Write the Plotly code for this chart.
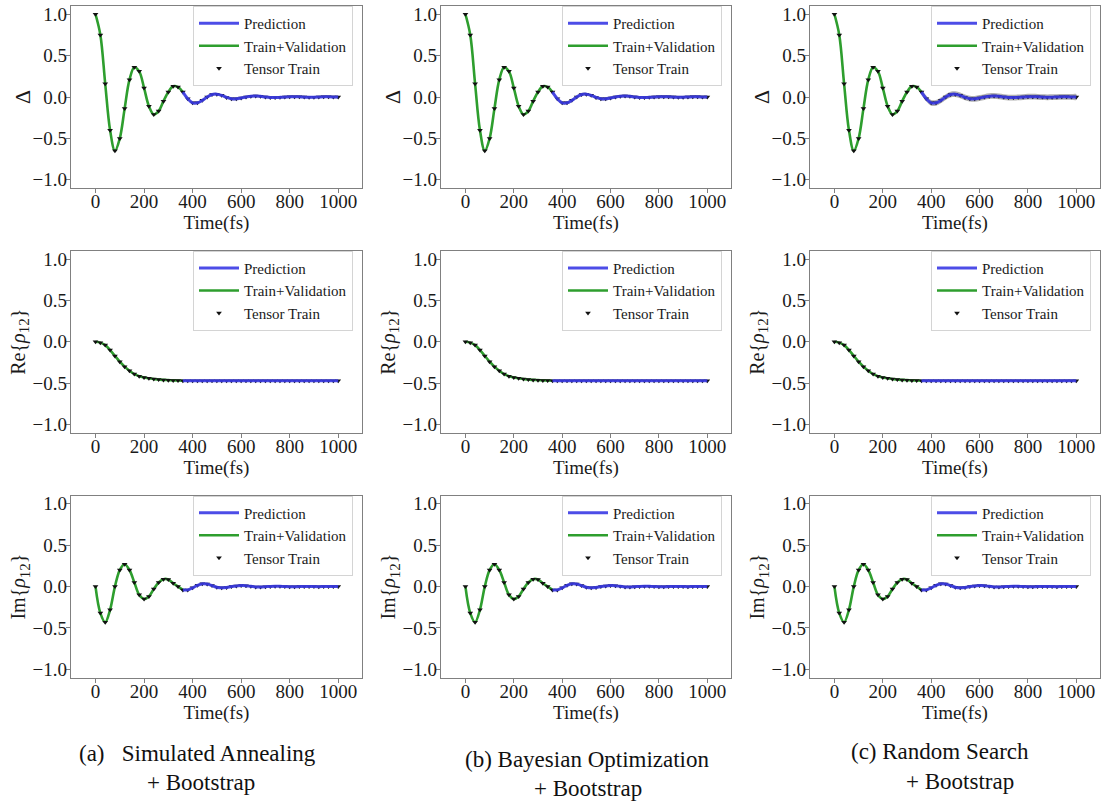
import plotly.graph_objects as go

# ---------------- data ----------------
time_fs = list(range(0, 1001, 20))

delta_vals = [1.0, 0.75, 0.16, -0.40, -0.65, -0.50, -0.14, 0.21, 0.36, 0.31,
              0.11, -0.11, -0.21, -0.17, -0.05, 0.06, 0.13, 0.12, 0.06, -0.02,
              -0.07, -0.07, -0.04, 0.0, 0.03, 0.035, 0.02, -0.005, -0.02, -0.022,
              -0.012, 0.0, 0.01, 0.013, 0.008, 0.0, -0.006, -0.007, -0.004, 0.0,
              0.004, 0.004, 0.002, -0.001, -0.003, -0.002, 0.0, 0.002, 0.002, 0.001,
              0.0]

re_rho12 = [0.0, -0.01, -0.04, -0.10, -0.17, -0.24, -0.30, -0.35, -0.39, -0.415,
            -0.43, -0.44, -0.45, -0.455, -0.46, -0.463, -0.466, -0.468, -0.47, -0.47,
            -0.47, -0.47, -0.47, -0.47, -0.47, -0.47, -0.47, -0.47, -0.47, -0.47,
            -0.47, -0.47, -0.47, -0.47, -0.47, -0.47, -0.47, -0.47, -0.47, -0.47,
            -0.47, -0.47, -0.47, -0.47, -0.47, -0.47, -0.47, -0.47, -0.47, -0.47,
            -0.47]

im_rho12 = [0.0, -0.32, -0.43, -0.28, 0.0, 0.20, 0.27, 0.20, 0.05, -0.10,
            -0.15, -0.12, -0.03, 0.05, 0.09, 0.085, 0.04, 0.0, -0.04, -0.04,
            -0.015, 0.015, 0.035, 0.03, 0.012, -0.008, -0.015, -0.01, 0.0, 0.008,
            0.012, 0.01, 0.003, -0.004, -0.005, -0.002, 0.002, 0.004, 0.003, 0.0,
            -0.002, -0.002, 0.0, 0.002, 0.002, 0.0, -0.001, 0.0, 0.001, 0.001,
            0.0]

train_end_fs = 360

row_series = [delta_vals, re_rho12, im_rho12]
row_titles = ["Δ",
              "Re{<i>ρ</i><sub><span style='font-size:15px'>12</span></sub>}",
              "Im{<i>ρ</i><sub><span style='font-size:15px'>12</span></sub>}"]

# bootstrap half-width of the grey band: [row][column]
band_halfwidth = [[0.015, 0.018, 0.035],
                  [0.008, 0.008, 0.01],
                  [0.01, 0.01, 0.012]]

caption_line1 = ["(a)&nbsp;&nbsp; Simulated Annealing", "(b) Bayesian Optimization", "(c) Random Search"]
caption_line2 = ["+ Bootstrap", "+ Bootstrap", "+ Bootstrap"]

x_ticks = [0, 200, 400, 600, 800, 1000]
y_ticks = [-1.0, -0.5, 0.0, 0.5, 1.0]
y_ticktext = ["−1.0", "−0.5", "0.0", "0.5", "1.0"]

# ---------------- layout geometry (pixels) ----------------
W, H = 1106, 805
col_px = [(71, 362), (441, 731), (810, 1100)]
row_px = [(4, 187), (250, 433), (496, 679)]
ytitle_offset = [49, 51, 51]
caption_y1 = [755, 761, 753]
caption_y2 = [784, 790, 783]
caption_x1 = [197, 587, 940]
caption_x2 = [201, 588, 960]

FONT = "Liberation Serif, Times New Roman, serif"
BLUE = "#3a3ae4"
GREEN = "#2e9e2e"
AXC = "#808080"
TXT = "#1a1a1a"

fig = go.Figure()
layout = dict()
annotations = []

t_train = [t for t in time_fs if t <= train_end_fs]
t_pred = [t for t in time_fs if t >= train_end_fs]

k = 0
for r in range(3):
    vals = row_series[r]
    v_train = [v for t, v in zip(time_fs, vals) if t <= train_end_fs]
    v_pred = [v for t, v in zip(time_fs, vals) if t >= train_end_fs]
    for c in range(3):
        k += 1
        sfx = "" if k == 1 else str(k)
        xa, ya = "x" + sfx, "y" + sfx
        leg = "legend" + sfx
        hw = band_halfwidth[r][c]
        upper = [v + hw for v in v_pred]
        lower = [v - hw for v in v_pred]
        fig.add_trace(go.Scatter(
            x=t_pred + t_pred[::-1], y=upper + lower[::-1], xaxis=xa, yaxis=ya,
            fill="toself", fillcolor="rgba(100,100,100,0.5)", line=dict(width=0, shape="spline"),
            mode="lines", showlegend=False, hoverinfo="skip"))
        fig.add_trace(go.Scatter(
            x=t_train, y=v_train, xaxis=xa, yaxis=ya, mode="lines",
            line=dict(color=GREEN, width=2.6, shape="spline"),
            name="Train+Validation", legend=leg, legendrank=2))
        fig.add_trace(go.Scatter(
            x=time_fs, y=vals, xaxis=xa, yaxis=ya, mode="markers",
            marker=dict(symbol="triangle-down", size=5, color="#111111"),
            name="Tensor Train", legend=leg, legendrank=3))
        fig.add_trace(go.Scatter(
            x=t_pred, y=v_pred, xaxis=xa, yaxis=ya, mode="lines",
            line=dict(color=BLUE, width=3, shape="spline"), opacity=0.9,
            name="Prediction", legend=leg, legendrank=1))

        x0, x1 = col_px[c]
        y0, y1 = row_px[r]
        layout["xaxis" + sfx] = dict(
            domain=[x0 / W, x1 / W], anchor=ya, range=[-101, 1098],
            tickvals=x_ticks, ticks="outside", ticklen=4, tickcolor=AXC,
            ticklabelstandoff=-8,
            showline=True, linecolor=AXC, linewidth=1.3, mirror=True,
            showgrid=False, zeroline=False,
            tickfont=dict(family=FONT, size=19, color=TXT),
            title=dict(text="Time(fs)", standoff=0, font=dict(family=FONT, size=19, color=TXT)))
        layout["yaxis" + sfx] = dict(
            domain=[1 - y1 / H, 1 - y0 / H], anchor=xa, range=[-1.1, 1.1],
            tickvals=y_ticks, ticktext=y_ticktext, ticks="outside", ticklen=4, tickcolor=AXC,
            ticklabelstandoff=-5,
            showline=True, linecolor=AXC, linewidth=1.3, mirror=True,
            showgrid=False, zeroline=False,
            tickfont=dict(family=FONT, size=19, color=TXT))
        annotations.append(dict(
            x=(x0 - ytitle_offset[r]) / W, y=1 - (y0 + y1) / 2 / H, xref="paper", yref="paper",
            text=row_titles[r], textangle=-90, showarrow=False,
            xanchor="center", yanchor="middle",
            font=dict(family=FONT, size=22 if r == 0 else 20, color=TXT)))
        layout[leg] = dict(
            x=(x1 - 9) / W, y=1 - (y0 + 0) / H, xanchor="right", yanchor="top",
            bgcolor="rgba(255,255,255,0.85)", bordercolor="#d4d4d4", borderwidth=1,
            font=dict(family=FONT, size=15, color=TXT), itemwidth=40,
            traceorder="normal")

for c in range(3):
    annotations.append(dict(x=caption_x1[c] / W, y=1 - caption_y1[c] / H, xref="paper", yref="paper",
                            text=caption_line1[c], showarrow=False, xanchor="center", yanchor="middle",
                            font=dict(family=FONT, size=23, color="#111111")))
    annotations.append(dict(x=caption_x2[c] / W, y=1 - caption_y2[c] / H, xref="paper", yref="paper",
                            text=caption_line2[c], showarrow=False, xanchor="center", yanchor="middle",
                            font=dict(family=FONT, size=23, color="#111111")))

fig.update_layout(
    width=W, height=H, margin=dict(l=0, r=0, t=0, b=0),
    paper_bgcolor="white", plot_bgcolor="white",
    annotations=annotations, **layout)

fig.write_html("out.html", config={"displayModeBar": False},
               post_script="document.body.style.margin='0';document.body.style.overflow='hidden';")
